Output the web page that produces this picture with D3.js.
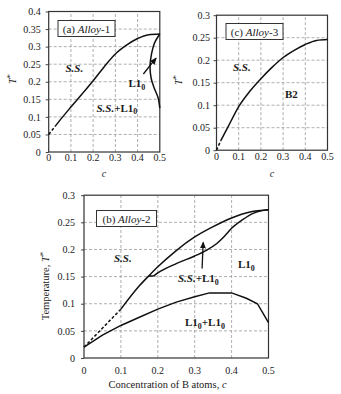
<!DOCTYPE html>
<html>
<head>
<meta charset="utf-8">
<script src="https://cdn.jsdelivr.net/npm/d3@7"></script>
<style>
  body { margin: 0; background: #fff; }
  text { font-family: "Liberation Serif", "Times New Roman", serif; fill: #1a1a1a; }
</style>
</head>
<body>
<div id="chart"></div>
<script>
/////// DATA

const xTicks = [0, 0.1, 0.2, 0.3, 0.4, 0.5];
const xTickLabels = ["0", "0.1", "0.2", "0.3", "0.4", "0.5"];
const yTicksA = [0, 0.05, 0.1, 0.15, 0.2, 0.25, 0.3, 0.35, 0.4];
const yTickLabelsA = ["0", "0.05", "0.1", "0.15", "0.2", "0.25", "0.3", "0.35", "0.4"];
const yTicksBC = [0, 0.05, 0.1, 0.15, 0.2, 0.25, 0.3];
const yTickLabelsBC = ["0", "0.05", "0.1", "0.15", "0.2", "0.25", "0.3"];

// (a) Alloy-1
const a1DashC = [0, 0.03];
const a1DashT = [0.05, 0.074];
const a1C = [0.03, 0.05, 0.1, 0.15, 0.2, 0.25, 0.3, 0.35, 0.4, 0.45, 0.5];
const a1T = [0.074, 0.09, 0.128, 0.165, 0.203, 0.243, 0.279, 0.304, 0.323, 0.334, 0.336];
const a1RightC = [0.5, 0.476, 0.463, 0.456, 0.461, 0.476, 0.492, 0.5];
const a1RightT = [0.336, 0.31, 0.28, 0.245, 0.21, 0.18, 0.155, 0.125];
const a1ArrowC = [0.426, 0.483];
const a1ArrowT = [0.222, 0.267];

// (c) Alloy-3
const a3DashC = [0, 0.02];
const a3DashT = [0, 0.022];
const a3C = [0.02, 0.05, 0.1, 0.15, 0.2, 0.25, 0.3, 0.35, 0.4, 0.45, 0.5];
const a3T = [0.022, 0.05, 0.097, 0.131, 0.159, 0.184, 0.206, 0.222, 0.235, 0.244, 0.246];

// (b) Alloy-2
const a2DashC = [0, 0.1];
const a2DashT = [0.02, 0.09];
const a2UpperC = [0.1, 0.15, 0.178, 0.2, 0.25, 0.3, 0.35, 0.4, 0.45, 0.5];
const a2UpperT = [0.09, 0.133, 0.153, 0.168, 0.198, 0.223, 0.242, 0.258, 0.269, 0.273];
const a2LowerC = [0.174, 0.187, 0.2, 0.25, 0.3, 0.33, 0.36, 0.38, 0.4, 0.43, 0.46, 0.5];
const a2LowerT = [0.151, 0.151, 0.157, 0.174, 0.188, 0.198, 0.211, 0.224, 0.239, 0.255, 0.267, 0.273];
const a2BottomC = [0, 0.05, 0.1, 0.15, 0.2, 0.25, 0.3, 0.34, 0.4, 0.44, 0.47, 0.5];
const a2BottomT = [0.02, 0.042, 0.06, 0.075, 0.09, 0.103, 0.113, 0.12, 0.12, 0.11, 0.1, 0.065];
const a2ArrowC = [0.32, 0.323];
const a2ArrowT = [0.165, 0.213];

/////// DRAW

const svg = d3.select("#chart").append("svg")
  .attr("width", 341)
  .attr("height", 394);

svg.append("defs").append("marker")
  .attr("id", "head")
  .attr("markerUnits", "userSpaceOnUse")
  .attr("markerWidth", 7).attr("markerHeight", 6)
  .attr("refX", 6).attr("refY", 3)
  .attr("orient", "auto")
  .append("path").attr("d", "M0,0 L7,3 L0,6 Z").attr("fill", "#111");

function panel(cfg) {
  const x = d3.scaleLinear().domain([0, 0.5]).range(cfg.xr);
  const y = d3.scaleLinear().domain([0, cfg.ymax]).range(cfg.yr);
  const g = svg.append("g");

  // dashed grid
  g.selectAll(".gx").data(xTicks.slice(1, -1)).join("line")
    .attr("x1", d => x(d)).attr("x2", d => x(d))
    .attr("y1", cfg.yr[0]).attr("y2", cfg.yr[1])
    .attr("stroke", "#9a9a9a").attr("stroke-dasharray", "3,2").attr("stroke-width", 0.8);
  g.selectAll(".gy").data(cfg.yTicks.slice(1, -1)).join("line")
    .attr("y1", d => y(d)).attr("y2", d => y(d))
    .attr("x1", cfg.xr[0]).attr("x2", cfg.xr[1])
    .attr("stroke", "#9a9a9a").attr("stroke-dasharray", "3,2").attr("stroke-width", 0.8);

  // y axis with outward ticks
  const ya = g.append("g")
    .attr("transform", `translate(${cfg.xr[0]},0)`)
    .call(d3.axisLeft(y).tickValues(cfg.yTicks).tickSize(3).tickPadding(cfg.ypad)
      .tickFormat((d, i) => cfg.yLabels[i]));
  ya.attr("font-family", null);
  ya.select(".domain").remove();
  ya.selectAll("line").attr("stroke", "#444");
  ya.selectAll("text").attr("font-size", 10);

  // x tick labels
  g.selectAll(".xl").data(xTicks).join("text")
    .attr("x", d => x(d)).attr("y", cfg.yr[0] + cfg.xpad)
    .attr("text-anchor", "middle").attr("font-size", 10)
    .text((d, i) => xTickLabels[i]);

  // frame
  g.append("rect")
    .attr("x", cfg.xr[0]).attr("y", cfg.yr[1])
    .attr("width", cfg.xr[1] - cfg.xr[0]).attr("height", cfg.yr[0] - cfg.yr[1])
    .attr("fill", "none").attr("stroke", "#333").attr("stroke-width", 1.2);

  return { x, y, g };
}

function curve(p, cs, ts, kind, dashed) {
  const line = d3.line().x(d => p.x(d[0])).y(d => p.y(d[1])).curve(kind);
  const path = p.g.append("path")
    .attr("d", line(d3.zip(cs, ts)))
    .attr("fill", "none").attr("stroke", "#111").attr("stroke-width", 1.5);
  if (dashed) path.attr("stroke-dasharray", "3,2");
  return path;
}

function arrow(p, cs, ts) {
  p.g.append("line")
    .attr("x1", p.x(cs[0])).attr("y1", p.y(ts[0]))
    .attr("x2", p.x(cs[1])).attr("y2", p.y(ts[1]))
    .attr("stroke", "#111").attr("stroke-width", 1.3)
    .attr("marker-end", "url(#head)");
}

// title box: "(a) Alloy-1"
function titleBox(p, bx, by, bw, bh, letter, num) {
  p.g.append("rect").attr("x", bx).attr("y", by).attr("width", bw).attr("height", bh)
    .attr("fill", "#fff").attr("stroke", "#333").attr("stroke-width", 1);
  const t = p.g.append("text").attr("x", bx + bw / 2).attr("y", by + bh - 4)
    .attr("text-anchor", "middle").attr("font-size", 11);
  t.append("tspan").text(`(${letter}) `);
  t.append("tspan").attr("font-style", "italic").text("Alloy");
  t.append("tspan").text(`-${num}`);
}

// phase labels; parts: [text, style] with style "si" bold italic, "b" bold, "sub" subscript
function phase(p, px, py, parts) {
  const t = p.g.append("text").attr("x", px).attr("y", py)
    .attr("font-size", 11).attr("font-weight", "bold");
  let down = false;
  parts.forEach(([s, k]) => {
    const ts = t.append("tspan").text(s);
    if (k === "si") ts.attr("font-style", "italic");
    if (k === "sub") { ts.attr("font-size", 8).attr("dy", 2.5); down = true; }
    else if (down) { ts.attr("dy", -2.5); down = false; }
  });
}

function yTitle(px, py, parts, size) {
  const t = svg.append("text")
    .attr("transform", `translate(${px},${py}) rotate(-90)`)
    .attr("text-anchor", "middle").attr("font-size", size);
  parts.forEach(([s, k]) => {
    const ts = t.append("tspan").text(s);
    if (k === "i") ts.attr("font-style", "italic");
    if (k === "sup") ts.attr("font-size", 9).attr("dy", -3);
  });
}

/////// (a) Alloy-1
const pa = panel({ xr: [48.7, 159.8], yr: [152, 11.5], ymax: 0.4,
  yTicks: yTicksA, yLabels: yTickLabelsA, ypad: 5, xpad: 8.5 });
curve(pa, a1DashC, a1DashT, d3.curveLinear, true);
curve(pa, a1C, a1T, d3.curveMonotoneX, false);
curve(pa, a1RightC, a1RightT, d3.curveCatmullRom, false);
arrow(pa, a1ArrowC, a1ArrowT);
titleBox(pa, 58, 20.5, 57, 16, "a", 1);
phase(pa, 65.5, 71.5, [["S.S.", "si"]]);
phase(pa, 128.5, 87, [["L1", "b"], ["0", "sub"]]);
phase(pa, 96.5, 111.5, [["S.S.", "si"], ["+L1", "b"], ["0", "sub"]]);
svg.append("text").attr("x", 104).attr("y", 176.5).attr("text-anchor", "middle")
  .attr("font-size", 10).attr("font-style", "italic").text("c");
yTitle(15.5, 79, [["T", "i"], ["*", "sup"]], 10);

/////// (c) Alloy-3
const pc = panel({ xr: [216.5, 327.5], yr: [150.2, 15.2], ymax: 0.3,
  yTicks: yTicksBC, yLabels: yTickLabelsBC, ypad: 3.5, xpad: 10 });
curve(pc, a3DashC, a3DashT, d3.curveLinear, true);
curve(pc, a3C, a3T, d3.curveMonotoneX, false);
titleBox(pc, 226, 23.5, 57, 16, "c", 3);
phase(pc, 233, 71, [["S.S.", "si"]]);
phase(pc, 285, 98, [["B2", "b"]]);
svg.append("text").attr("x", 272).attr("y", 176.5).attr("text-anchor", "middle")
  .attr("font-size", 10).attr("font-style", "italic").text("c");
yTitle(182, 80, [["T", "i"], ["*", "sup"]], 10);

/////// (b) Alloy-2
const pb = panel({ xr: [84, 268.5], yr: [358, 195.2], ymax: 0.3,
  yTicks: yTicksBC, yLabels: yTickLabelsBC, ypad: 6, xpad: 15.5 });
curve(pb, a2DashC, a2DashT, d3.curveLinear, true);
curve(pb, a2UpperC, a2UpperT, d3.curveMonotoneX, false);
curve(pb, a2LowerC, a2LowerT, d3.curveMonotoneX, false);
curve(pb, a2BottomC, a2BottomT, d3.curveLinear, false);
arrow(pb, a2ArrowC, a2ArrowT);
titleBox(pb, 96.5, 210.5, 60, 16, "b", 2);
phase(pb, 114, 262, [["S.S.", "si"]]);
phase(pb, 238, 268, [["L1", "b"], ["0", "sub"]]);
phase(pb, 178, 282, [["S.S.", "si"], ["+L1", "b"], ["0", "sub"]]);
phase(pb, 185, 326, [["L1", "b"], ["0", "sub"], ["+L1", "b"], ["0", "sub"]]);
const xt = svg.append("text").attr("x", 167.5).attr("y", 388).attr("text-anchor", "middle")
  .attr("font-size", 10.5);
xt.append("tspan").text("Concentration of B atoms, ");
xt.append("tspan").attr("font-style", "italic").text("c");
yTitle(48.5, 286, [["Temperature, "], ["T", "i"], ["*", "sup"]], 10.5);
</script>
</body>
</html>
